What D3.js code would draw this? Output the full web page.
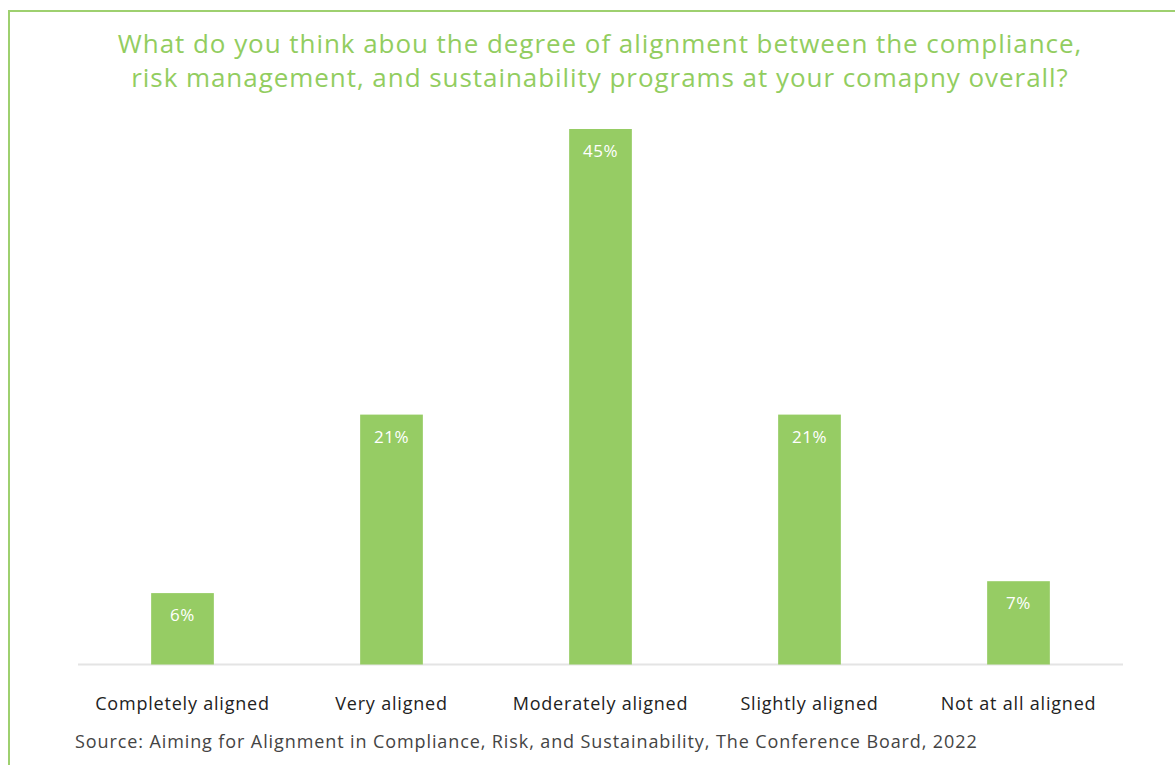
<!DOCTYPE html>
<html><head><meta charset="utf-8">
<script src="https://cdn.jsdelivr.net/npm/d3@7"></script>
<style>body{margin:0;background:#fff;} svg{display:block;}</style>
</head><body>
<svg id="chart" width="1175" height="765"></svg>
<script>
const categories = ["Completely aligned","Very aligned","Moderately aligned","Slightly aligned","Not at all aligned"];
const values = [6, 21, 45, 21, 7];
const valueLabels = ["6%","21%","45%","21%","7%"];
const titleLines = ["What do you think abou the degree of alignment between the compliance,","risk management, and sustainability programs at your comapny overall?"];
const sourceText = "Source: Aiming for Alignment in Compliance, Risk, and Sustainability, The Conference Board, 2022";

const svg = d3.select("#chart");
const green = "#96cc64";
const font = "'Open Sans', sans-serif";

// frame
svg.append("path").attr("d","M9,765 V11 H1175").attr("fill","none").attr("stroke","#9ed06f").attr("stroke-width",2);

// title
svg.append("g").selectAll("text").data(titleLines).join("text")
  .attr("x",600).attr("y",(d,i)=>53+i*34).attr("text-anchor","middle")
  .attr("font-family",font).attr("font-size",26).attr("letter-spacing",0.95).attr("fill","#92cd5f").text(d=>d);

const x = d3.scaleBand().domain(categories).range([78,1123]).paddingInner(0.7).paddingOuter(0.35);
const y = d3.scaleLinear().domain([0,45]).range([664.5,129]);

svg.append("line").attr("x1",78).attr("x2",1123).attr("y1",y(0)).attr("y2",y(0)).attr("stroke","#e4e4e4").attr("stroke-width",2);

svg.append("g").selectAll("rect").data(values).join("rect")
  .attr("x",(d,i)=>x(categories[i])).attr("width",x.bandwidth())
  .attr("y",d=>y(d)).attr("height",d=>y(0)-y(d)).attr("fill",green);

svg.append("g").selectAll("text").data(values).join("text")
  .attr("x",(d,i)=>x(categories[i])+x.bandwidth()/2).attr("y",d=>y(d)+28)
  .attr("text-anchor","middle").attr("font-family",font).attr("font-size",17).attr("letter-spacing",0.5).attr("fill","#fff")
  .text((d,i)=>valueLabels[i]);

const xAxis = d3.axisBottom(x).tickSize(0).tickPadding(0);
const gx = svg.append("g").attr("transform",`translate(0,${y(0)})`).call(xAxis);
gx.select(".domain").remove();
gx.selectAll("text").attr("dy",0).attr("y",45).attr("font-family",font).attr("font-size",18).attr("letter-spacing",0.8).attr("fill","#222");

svg.append("text").attr("x",75).attr("y",748).attr("font-family",font).attr("font-size",18).attr("letter-spacing",0.9).attr("fill","#444").text(sourceText);
</script>
</body></html>
